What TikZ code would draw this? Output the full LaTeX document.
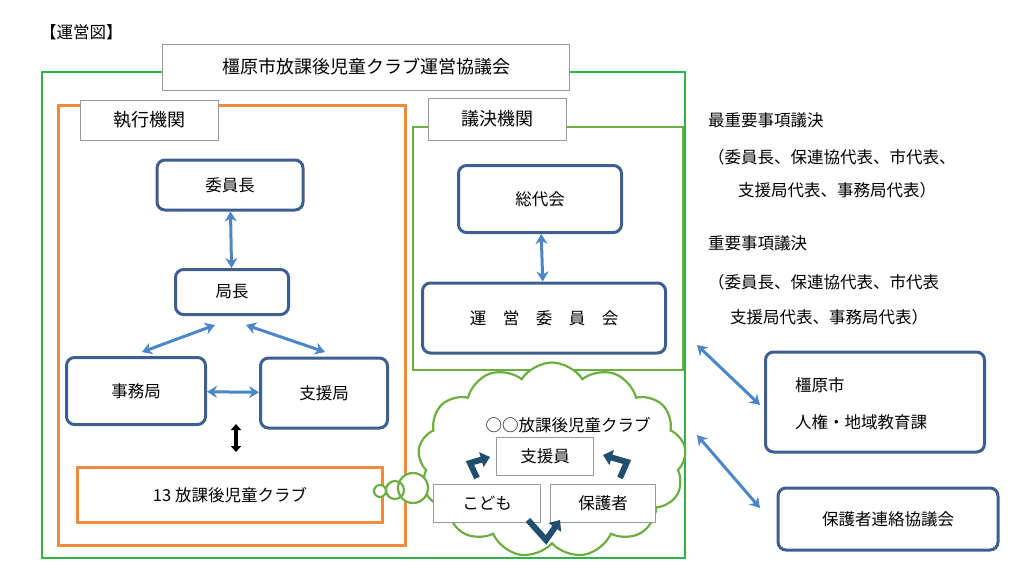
\documentclass[tikz,border=0pt]{standalone}
\usepackage{fontspec}
\setmainfont{Noto Sans CJK JP}
\usetikzlibrary{shapes.symbols,arrows.meta}
\definecolor{gr}{HTML}{2DB34A}
\definecolor{lg}{HTML}{6DAE43}
\definecolor{orn}{HTML}{F08A3C}
\definecolor{bl}{HTML}{3D5F8F}
\definecolor{lb}{HTML}{4A86C8}
\definecolor{dt}{HTML}{1F4E6E}
\begin{document}
\begin{tikzpicture}[x=1pt,y=-1pt,
  every node/.style={font=\fontsize{16.5}{20}\selectfont},
  rb/.style={draw=bl,line width=3pt,rounded corners=8pt,fill=white},
  lab/.style={draw=gray!80,line width=0.8pt,fill=white},
  ar/.style={draw=lb,line width=3pt,{Stealth[length=10pt,width=12pt]}-{Stealth[length=10pt,width=12pt]}},
  ta/.style={draw=dt,line width=6pt,-{Triangle[length=9pt,width=15pt]}},
  txt/.style={anchor=west,inner sep=0pt}]
\useasboundingbox (0,0) rectangle (1024,581);
\node[txt] (t0) at (40,32) {【運営図】};
\draw[gr,line width=2.2pt] (42,72) rectangle (685,558);
\node[lab,minimum width=407pt,minimum height=46pt] (title) at (366,67) {\fontsize{18}{20}\selectfont 橿原市放課後児童クラブ運営協議会};
\draw[orn,line width=3pt] (58,105) rectangle (405,545);
\node[lab,minimum width=138pt,minimum height=40pt] (exe) at (149,120) {\fontsize{18}{20}\selectfont 執行機関};
\draw[lg,line width=2.2pt] (413,127) rectangle (683,370);
\node[lab,minimum width=138pt,minimum height=42pt] (dec) at (497,119) {\fontsize{18}{20}\selectfont 議決機関};
\node[rb,minimum width=146pt,minimum height=50pt] (iin) at (230,185) {委員長};
\node[rb,minimum width=113pt,minimum height=45pt] (kyoku) at (232,292) {局長};
\node[rb,minimum width=139pt,minimum height=67pt] (jimu) at (136,391) {事務局};
\node[rb,minimum width=127pt,minimum height=70pt] (shien) at (324,393) {支援局};
\node[rb,minimum width=163pt,minimum height=67pt] (sou) at (540,199) {総代会};
\node[rb,minimum width=243pt,minimum height=70pt] (unei) at (544,318) {運\quad 営\quad 委\quad 員\quad 会};
\node[rb,minimum width=219pt,minimum height=100pt] (city) at (875,402) {};
\node[txt] (city1) at (795,385) {橿原市};
\node[txt] (city2) at (795,422) {人権・地域教育課};
\node[rb,minimum width=220pt,minimum height=62pt] (hogo) at (888,519) {保護者連絡協議会};
\node[draw=orn,line width=2.4pt,fill=white,minimum width=305pt,minimum height=55pt] (club13) at (230,495) {13 放課後児童クラブ};
\draw[ar] (iin) -- (kyoku);
\draw[ar] (215,325) -- (142,352);
\draw[ar] (246,325) -- (325,352);
\draw[ar] (jimu) -- (shien);
\draw[line width=3.5pt,{Triangle[length=6pt,width=10pt]}-{Triangle[length=6pt,width=10pt]}] (236,424) -- (236,452);
\draw[ar] (sou) -- (unei);
\draw[ar] (697,345) -- (760,405);
\draw[ar] (697,435) -- (760,508);
% cloud
\node[cloud,cloud puffs=13,cloud puff arc=115,aspect=1.35,draw=lg,line width=2.2pt,fill=white,minimum width=268pt,minimum height=195pt] (cl) at (552,460) {};
\draw[lg,line width=2.2pt,fill=white] (380,491) circle (6) (395,490) circle (9) (413,488) circle (15);
\node (clt) at (568,425) {○○放課後児童クラブ};
\node[lab,minimum width=97pt,minimum height=38pt] (sy) at (545,456) {支援員};
\node[lab,minimum width=107pt,minimum height=38pt] (kd) at (487,503) {こども};
\node[lab,minimum width=105pt,minimum height=38pt] (hg) at (603,503) {保護者};
\draw[ta] (477,478) -- (470,463) -- (490,457);
\draw[ta] (620,478) -- (627,462) -- (603,455);
\draw[ta] (528,520) -- (546,540) -- (560,520);
% right texts
\node[txt] (r1) at (708,120) {最重要事項議決};
\node[txt] (r2) at (708,157) {（委員長、保連協代表、市代表、};
\node[txt] (r3) at (738,190) {支援局代表、事務局代表）};
\node[txt] (r4) at (708,243) {重要事項議決};
\node[txt] (r5) at (708,282) {（委員長、保連協代表、市代表};
\node[txt] (r6) at (730,317) {支援局代表、事務局代表）};
\end{tikzpicture}
\end{document}
